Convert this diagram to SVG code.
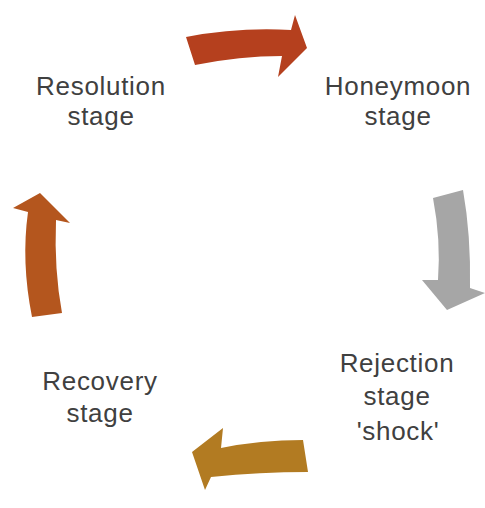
<svg xmlns="http://www.w3.org/2000/svg" width="485" height="508" viewBox="0 0 485 508">
<style>
.lbl{font-family:"Liberation Sans",Arial,sans-serif;font-size:26px;letter-spacing:0.7px;fill:#404040;text-anchor:middle}
</style>
<rect width="485" height="508" fill="#ffffff"/>
<g id="connectors">
<path id="arrow-top" d="M186,37 Q238,27 291,30 L295,15 L307,48 L278,77 L282,56 Q240,56 195,65 Z" fill="#b5401e"/>
<path id="arrow-right" d="M433,198 Q441,240 438,280 L422,280 L447,310 L485,293 L470,288 Q471,235 463,190 Z" fill="#a6a6a6"/>
<path id="arrow-bottom" d="M303,440 Q260,440 221,448 L223,428 L192,452 L205,490 L211,477 Q260,472 308,472 Z" fill="#b27b22"/>
<path id="arrow-left" d="M32,317 Q21,262 28,212 L13,208 L40,193 L70,223 L56,220 Q54,270 62,313 Z" fill="#b4561e"/>
</g>
<g id="node-resolution">
<text class="lbl" x="101" y="95">Resolution</text>
<text class="lbl" x="101" y="125">stage</text>
</g>
<g id="node-honeymoon">
<text class="lbl" x="398" y="95">Honeymoon</text>
<text class="lbl" x="398" y="125">stage</text>
</g>
<g id="node-rejection">
<text class="lbl" x="397" y="372">Rejection</text>
<text class="lbl" x="397" y="405">stage</text>
<text class="lbl" x="398" y="440">'shock'</text>
</g>
<g id="node-recovery">
<text class="lbl" x="100" y="390">Recovery</text>
<text class="lbl" x="100" y="422">stage</text>
</g>
</svg>
